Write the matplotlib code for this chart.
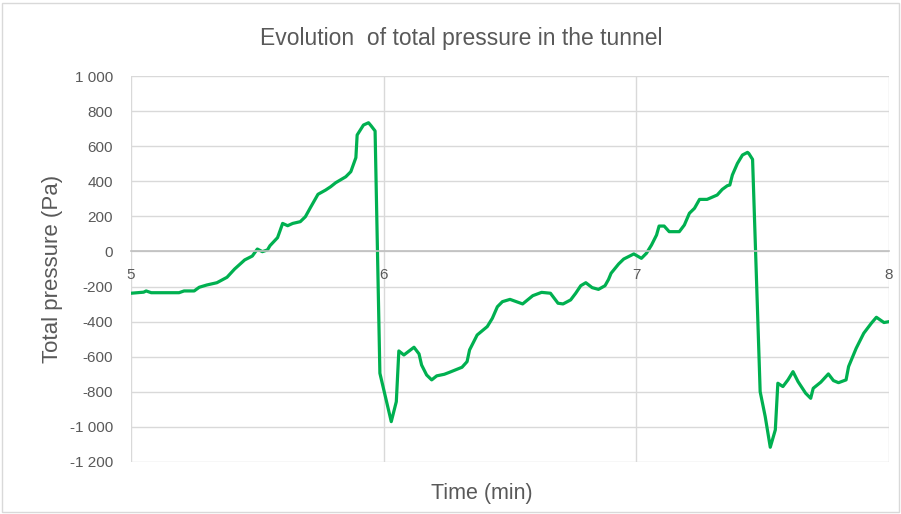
import numpy as np
import matplotlib.pyplot as plt
from matplotlib.ticker import FuncFormatter

# time (min) and total pressure (Pa)
time_min = [5.00, 5.05, 5.06, 5.08, 5.19, 5.21, 5.25, 5.27, 5.30, 5.34, 5.38, 5.41, 5.45, 5.48,
            5.50, 5.52, 5.54, 5.55, 5.58, 5.59, 5.60, 5.62, 5.64, 5.67, 5.69, 5.71, 5.74, 5.77,
            5.79, 5.81, 5.85, 5.87, 5.89, 5.895, 5.92, 5.94, 5.95, 5.966, 5.985, 6.03, 6.05, 6.06,
            6.08, 6.12, 6.14, 6.15, 6.17, 6.19, 6.21, 6.24, 6.26, 6.31, 6.33, 6.34, 6.37, 6.41,
            6.43, 6.45, 6.47, 6.50, 6.55, 6.59, 6.625, 6.66, 6.69, 6.71, 6.74, 6.76, 6.78, 6.80,
            6.825, 6.85, 6.876, 6.89, 6.90, 6.93, 6.95, 6.99, 7.02, 7.04, 7.06, 7.08, 7.09, 7.11,
            7.13, 7.17, 7.19, 7.21, 7.23, 7.25, 7.28, 7.32, 7.34, 7.36, 7.37, 7.38, 7.40, 7.42,
            7.44, 7.445, 7.46, 7.49, 7.51, 7.53, 7.55, 7.56, 7.58, 7.60, 7.62, 7.64, 7.67, 7.69,
            7.70, 7.73, 7.76, 7.78, 7.80, 7.83, 7.84, 7.87, 7.90, 7.93, 7.95, 7.98, 8.00]
pressure = [-238, -232, -225, -235, -235, -225, -225, -204, -191, -178, -147, -100, -48, -26,
            14, -1, 9, 33, 79, 119, 160, 147, 160, 170, 198, 250, 326, 350,
            369, 392, 426, 455, 535, 664, 721, 734, 717, 687, -694, -970, -856, -567,
            -590, -546, -584, -647, -704, -732, -709, -700, -689, -660, -628, -561, -476, -428,
            -381, -315, -286, -273, -299, -252, -233, -238, -295, -299, -276, -238, -195, -178,
            -206, -216, -195, -159, -124, -71, -43, -14, -39, -10, 37, 94, 145, 145,
            113, 113, 151, 218, 246, 297, 297, 322, 354, 375, 379, 436, 502, 550,
            565, 559, 525, -799, -941, -1116, -1017, -751, -770, -732, -685, -742, -808, -837,
            -780, -745, -698, -736, -748, -732, -656, -552, -466, -409, -375, -405, -400]

x_ticks = [5, 6, 7, 8]
y_ticks = np.arange(-1200, 1001, 200)

plt.rcParams['font.family'] = ['Liberation Sans', 'DejaVu Sans']
grey_text = '#595959'

fig = plt.figure(figsize=(9.01, 5.14), dpi=100)
ax = fig.add_axes([0.1454, 0.1012, 0.8413, 0.7508])

ax.plot(time_min, pressure, color='#00B050', linewidth=2.3, solid_joinstyle='round')

ax.set_xlim(5, 8)
ax.set_ylim(-1200, 1000)
ax.set_xticks(x_ticks)
ax.set_yticks(y_ticks)
ax.yaxis.set_major_formatter(FuncFormatter(lambda v, p: f'{int(v):,}'.replace(',', ' ')))

ax.grid(True, color='#d9d9d9', linewidth=1)
ax.set_axisbelow(True)
for s in ['top', 'right', 'left']:
    ax.spines[s].set_visible(False)
ax.spines['bottom'].set_position(('data', 0))
ax.spines['bottom'].set_color('#bfbfbf')
ax.spines['bottom'].set_linewidth(1.2)

ax.tick_params(axis='both', length=0, labelsize=11, labelcolor=grey_text)
ax.tick_params(axis='x', pad=12)
ax.tick_params(axis='y', pad=13)

fig.text(0.512, 0.925, 'Evolution  of total pressure in the tunnel', fontsize=16.5,
         color=grey_text, ha='center', va='center')
ax.set_ylabel('Total pressure (Pa)', fontsize=16, color=grey_text, labelpad=5)
fig.text(0.535, 0.04, 'Time (min)', fontsize=15.5, color=grey_text, ha='center', va='center')

# light frame around the chart area
fig.patches.append(plt.Rectangle((0.002, 0.004), 0.996, 0.99, transform=fig.transFigure,
                                 fill=False, edgecolor='#d9d9d9', linewidth=1))

fig.savefig('out.png', dpi=100)
